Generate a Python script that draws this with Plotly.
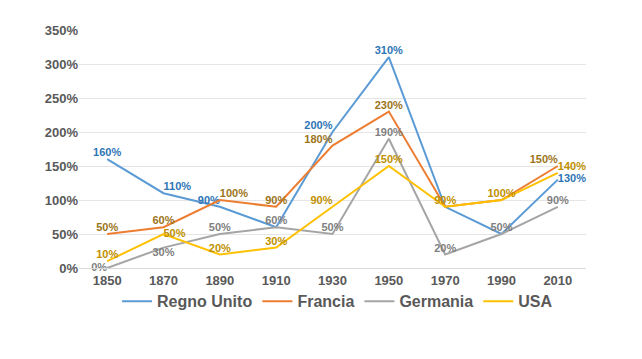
import plotly.graph_objects as go

years = ["1850", "1870", "1890", "1910", "1930", "1950", "1970", "1990", "2010"]
regno_unito = [160, 110, 90, 60, 200, 310, 90, 50, 130]
francia = [50, 60, 100, 90, 180, 230, 90, 100, 150]
germania = [0, 30, 50, 60, 50, 190, 20, 50, 90]
usa = [10, 50, 20, 30, 90, 150, 90, 100, 140]
y_ticks = [0, 50, 100, 150, 200, 250, 300, 350]

series = [
    ("Regno Unito", regno_unito, "#5B9BD5", "#2E75B6",
     [True, True, True, False, True, True, False, False, True],
     ["top center", "top right", "top left", "top center", "top left", "top center", "top center", "top center", "middle right"]),
    ("Francia", francia, "#ED7D31", "#9C7420",
     [True, True, True, True, True, True, False, False, True],
     ["top center", "top center", "top right", "top center", "top left", "top center", "top center", "top center", "top left"]),
    ("Germania", germania, "#A5A5A5", "#7F7F7F",
     [True, True, True, True, True, True, True, True, True],
     ["middle left", "bottom center", "top center", "top center", "top center", "top center", "top center", "top center", "top center"]),
    ("USA", usa, "#FFC000", "#BF9000",
     [True, True, True, True, True, True, True, True, True],
     ["top center", "middle right", "top center", "top center", "top left", "top center", "top center", "top center", "top right"]),
]

fig = go.Figure()
for name, vals, col, tcol, show, pos in series:
    fig.add_trace(go.Scatter(
        x=years, y=vals, name=f"<b>{name}</b>", mode="lines+text",
        line=dict(color=col, width=2),
        text=[f"<b>{v}%</b>" if s else "" for v, s in zip(vals, show)],
        textposition=pos,
        textfont=dict(color=tcol, size=11, family="Liberation Sans"),
        cliponaxis=False,
    ))

fig.update_layout(
    width=642, height=359,
    margin=dict(l=71, r=64, t=22, b=99, autoexpand=False),
    plot_bgcolor="white", paper_bgcolor="white",
    font=dict(family="Liberation Sans", color="#595959"),
    showlegend=True,
    legend=dict(orientation="h", x=0.51, xanchor="center", y=-0.14, yanchor="middle",
                bgcolor="rgba(0,0,0,0)",
                font=dict(size=16, color="#595959", family="Liberation Sans"),
                itemwidth=30, traceorder="normal"),
    xaxis=dict(type="category", range=[-0.5, 8.5], showgrid=False,
               showline=True, linecolor="#D9D9D9", ticks="",
               tickprefix="<b>", ticksuffix="</b>",
               tickfont=dict(size=13, color="#595959", family="Liberation Sans")),
    yaxis=dict(range=[0, 350], tickvals=y_ticks, ticktext=[f"<b>{v}%</b>" for v in y_ticks],
               showgrid=True, gridcolor="#E5E5E5", zeroline=False, ticks="",
               tickfont=dict(size=13, color="#595959", family="Liberation Sans")),
)
fig.write_html("out.html")
